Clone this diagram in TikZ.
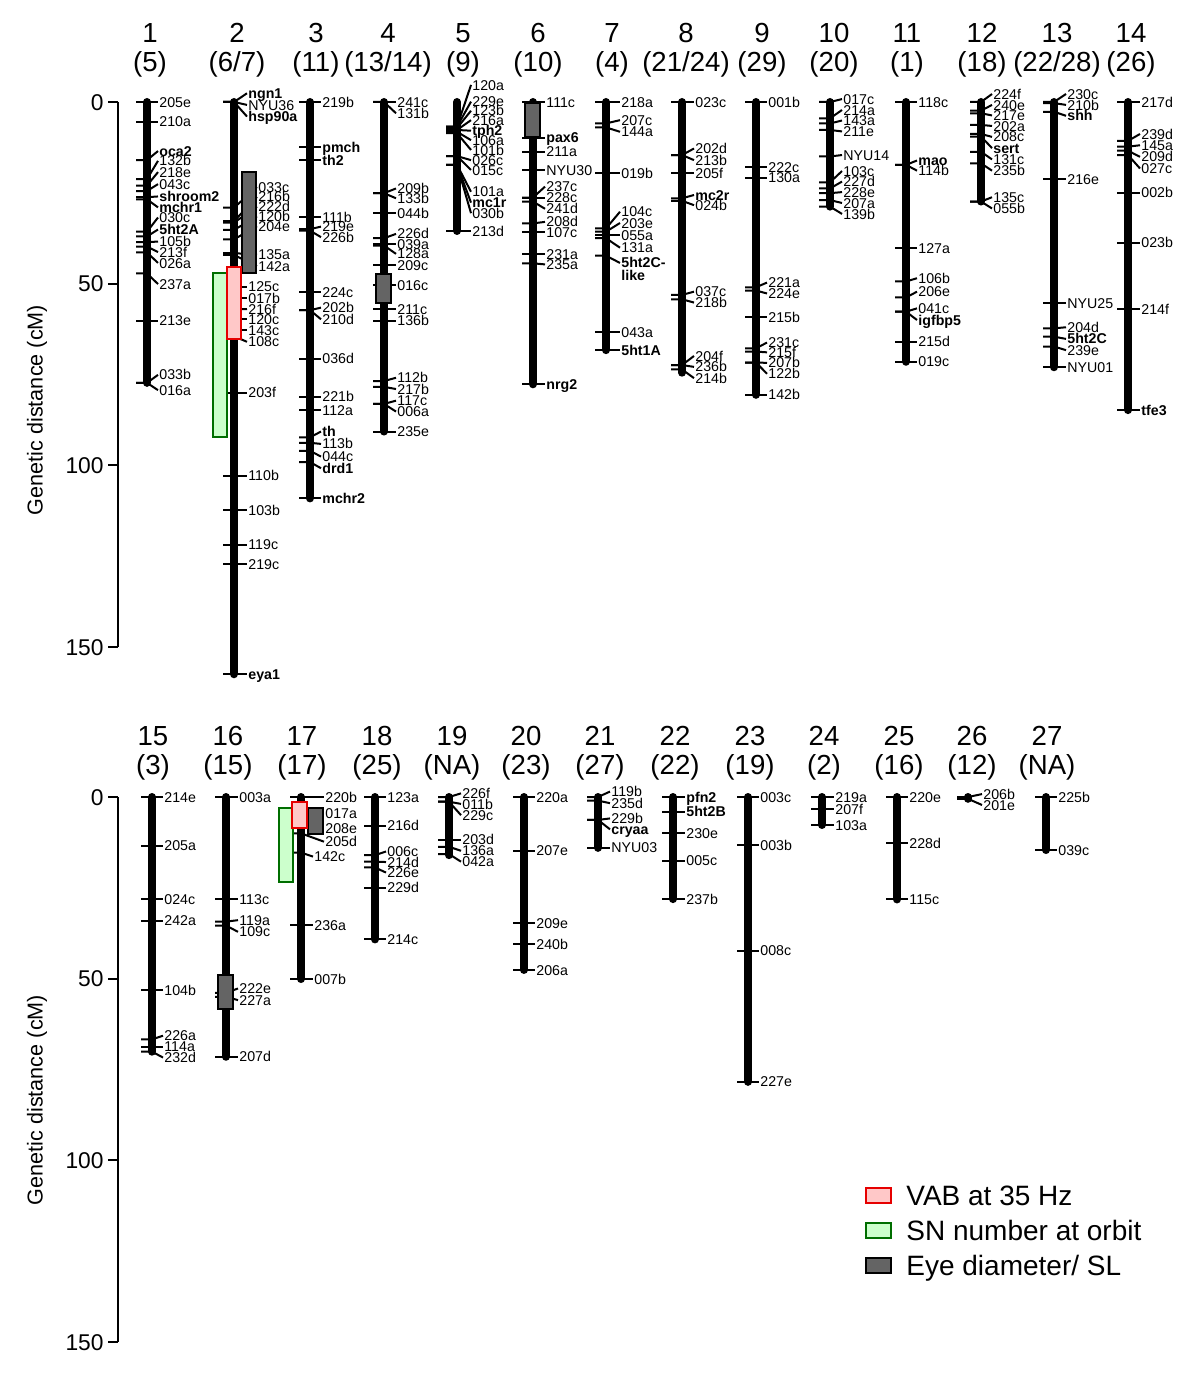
\documentclass[tikz,border=0pt]{standalone}
\usepackage{fontspec}
\setmainfont{Liberation Sans}
\usepackage{tikz}

\definecolor{vabfill}{RGB}{255,200,200}
\definecolor{vabdraw}{RGB}{230,0,0}
\definecolor{snfill}{RGB}{204,255,204}
\definecolor{sndraw}{RGB}{0,110,0}
\definecolor{eyefill}{RGB}{100,100,100}

\tikzset{
  bar/.style={line width=4pt, line cap=round},
  mk/.style={line width=1pt},
  lab/.style={anchor=west, inner sep=0pt, font=\fontsize{7.1}{7}\selectfont, text height=5.1pt, text depth=0pt},
  hdr/.style={anchor=base, inner sep=0pt, font=\fontsize{13.8}{14}\selectfont},
  axisline/.style={line width=1pt},
  ticklab/.style={anchor=east, inner sep=0pt, font=\fontsize{11.4}{12}\selectfont, text height=8.2pt, text depth=0pt},
  axtitle/.style={rotate=90, inner sep=0pt, font=\fontsize{10.8}{12}\selectfont},
  vab/.style={draw=vabdraw, fill=vabfill, line width=1pt},
  snbox/.style={draw=sndraw, fill=snfill, line width=1pt},
  eyebox/.style={draw=black, fill=eyefill, line width=1pt},
  legtext/.style={anchor=west, inner sep=0pt, font=\fontsize{14}{16}\selectfont, text height=10pt, text depth=0pt},
}

% one linkage group: x position, length in cM
\newcommand{\chrom}[2]{\draw[bar] (#1,0) -- (#1,#2);}
% markers: tick position / label position / name
\newcommand{\mkrs}[3][13]{%
  \foreach \pa/\pb/\nm [count=\i] in {#3}{%
    \draw[mk] ({#2-11},\pa) -- (#2,\pa) -- ({#2+#1-1},\pb);
    \node[lab] (m#2-#1-\i) at ({#2+#1},\pb) {\nm};
  }}

\begin{document}
\begin{tikzpicture}[x=0.5pt, y=-0.5pt]
\useasboundingbox (0,0) rectangle (1200,1385);

% group numbers and (old numbers)
\foreach \hx/\hn/\hp in {150/1/(5), 237/2/{(6/7)}, 316/3/(11), 388/4/{(13/14)}, 463/5/(9),
    538/6/(10), 612/7/(4), 686/8/{(21/24)}, 762/9/(29), 834/10/(20), 907/11/(1),
    982/12/(18), 1057/13/{(22/28)}, 1131/14/(26)}{
  \node[hdr] (n\hn) at (\hx,43) {\hn};
  \node[hdr] (p\hn) at (\hx,72) {\hp};
}
\foreach \hx/\hn/\hp in {153/15/(3), 228/16/(15), 302/17/(17), 377/18/(25), 452/19/(NA),
    526/20/(23), 600/21/(27), 675/22/(22), 750/23/(19), 824/24/(2), 899/25/(16),
    972/26/(12), 1047/27/(NA)}{
  \node[hdr] (n\hn) at (\hx,745) {\hn};
  \node[hdr] (p\hn) at (\hx,774) {\hp};
}

\node[axtitle] (yt1) at (37,410) {Genetic distance (cM)};
\node[axtitle] (yt2) at (37,1100) {Genetic distance (cM)};

% top panel, groups 1-14
\begin{scope}[shift={(0,102)}, y=-1.81667pt]
  \draw[axisline] (118,0) -- (118,150);
  \foreach \v in {0,50,100,150}{
    \draw[axisline] (108,\v) -- (118,\v);
    \node[ticklab] (ta\v) at (104,\v) {\v};
  }

  % 1
  \chrom{147}{77.3}
  \mkrs[12]{147}{0/0/205e, 5.4/5.4/210a, 16.0/13.5/\textbf{oca2}, 21.2/16.2/132b, 23.0/19.3/218e,
    24.5/22.6/043c, 26.2/26.0/\textbf{shroom2}, 26.8/29.0/\textbf{mchr1}, 35.7/31.8/030c,
    37.0/35.1/\textbf{5ht2A}, 38.6/38.4/105b, 39.8/41.3/213f, 41.4/44.3/026a, 47.2/50.1/237a,
    60.2/60.2/213e, 77.3/75.1/033b, 77.3/79.3/016a}

  % 2
  \chrom{234}{157.5}
  \mkrs[14]{234}{0/-2.4/\textbf{ngn1}, 0/0.8/NYU36, 0/4.0/\textbf{hsp90a}, 50.8/50.8/125c,
    54.0/54.0/017b, 57.1/57.0/216f, 59.8/59.8/120c, 62.8/62.8/143c, 64.5/66.0/108c,
    80.0/80.0/203f, 102.9/102.9/110b, 112.3/112.3/103b, 121.8/121.8/119c,
    127.2/127.2/219c, 157.5/157.5/\textbf{eya1}}
  \mkrs[24]{234}{29.1/23.4/033c, 32.8/26.1/216b, 33.2/28.8/222d, 35.2/31.5/120b,
    37.8/34.2/204e, 41.6/42.0/135a, 42.1/45.2/142a}
  \draw[snbox] (213.3,47.2) rectangle (226.7,92.3);
  \draw[eyebox] (241.7,19.2) rectangle (256,47.2);
  \draw[vab] (227.3,45.3) rectangle (240.7,65.2);

  % 3
  \chrom{310}{109.1}
  \mkrs[12]{310}{0/0/219b, 12.5/12.5/\textbf{pmch}, 16.0/16.0/\textbf{th2}, 31.7/31.7/111b,
    35.0/34.3/219e, 35.4/37.2/226b, 52.4/52.4/224c, 57.3/56.6/202b, 57.3/59.8/210d,
    70.6/70.6/036d, 81.1/81.1/221b, 84.8/84.8/112a, 92.3/90.7/\textbf{th}, 93.8/94.1/113b,
    96.0/97.6/044c, 99.1/100.8/\textbf{drd1}, 109.1/109.1/\textbf{mchr2}}

  % 4
  \chrom{384}{90.7}
  \mkrs{384}{0/0/241c, 0/3.1/131b, 25.1/23.8/209b, 25.1/26.5/133b, 30.6/30.6/044b,
    37.5/36.3/226d, 39.1/39.1/039a, 39.5/41.8/128a, 45.0/45.0/209c, 50.4/50.4/016c,
    57.1/57.1/211c, 60.2/60.2/136b, 76.8/75.9/112b, 78.4/79.0/217b, 83.1/82.2/117c,
    83.1/85.2/006a, 90.7/90.7/235e}
  \draw[eyebox] (376,47.3) rectangle (391,55.2);

  % 5
  \chrom{457}{35.5}
  \mkrs[15]{457}{6.8/-4.7/120a, 6.8/-0.1/229e, 7.2/2.4/123b, 7.7/5.0/216a, 7.7/7.9/\textbf{tph2},
    8.2/10.5/106a, 8.6/13.2/101b, 14.9/16.0/026c, 14.9/18.7/015c, 17.3/24.7/101a,
    17.3/27.7/\textbf{mc1r}, 17.3/30.6/030b, 35.5/35.5/213d}

  % 6
  \chrom{533}{77.7}
  \mkrs{533}{0/0/111c, 9.8/9.8/\textbf{pax6}, 13.7/13.7/211a, 18.7/18.7/NYU30, 26.3/23.3/237c,
    26.3/26.3/228c, 27.4/29.4/241d, 33.4/33.0/208d, 35.9/35.9/107c, 41.9/41.9/231a,
    44.4/44.7/235a, 77.7/77.7/\textbf{nrg2}}
  \draw[eyebox] (525,0.2) rectangle (540,9.6);

  % 7
  \chrom{606}{68.3}
  \mkrs[15]{606}{0/0/218a, 5.9/5.0/207c, 7.0/8.2/144a, 19.6/19.6/019b, 34.8/30.2/104c,
    35.7/33.3/203e, 36.6/36.6/055a, 37.5/40.1/131a, 63.4/63.4/043a, 68.3/68.3/\textbf{5ht1A}}
  \draw[mk] (595,42.3) -- (606,42.3) -- (620,44.3);
  \node[anchor=north west, inner sep=0pt, align=left, font=\fontsize{7.1}{6.6}\selectfont\bfseries]
    (c7x) at (621,42.6) {5ht2C-\\like};

  % 8
  \chrom{682}{74.5}
  \mkrs{682}{0/0/023c, 14.6/12.8/202d, 14.6/16.0/213b, 19.6/19.6/205f, 26.5/25.6/\textbf{mc2r},
    27.2/28.4/024b, 53.1/52.2/037c, 54.3/55.2/218b, 72.4/69.9/204f, 72.4/72.9/236b,
    73.6/76.0/214b}

  % 9
  \chrom{756}{80.6}
  \mkrs[12]{756}{0/0/001b, 18.0/18.0/222c, 20.8/20.8/130a, 51.0/49.7/221a, 51.9/52.7/224e,
    59.3/59.3/215b, 67.8/66.2/231c, 68.7/68.9/215f, 71.7/71.8/207b, 71.7/74.8/122b,
    80.6/80.6/142b}

  % 10
  \chrom{830}{28.8}
  \mkrs{830}{0/-0.8/017c, 4.5/2.2/214a, 5.9/5.1/143a, 7.7/8.1/211e, 15.0/14.6/NYU14,
    22.1/19.0/103c, 23.8/21.9/227d, 25.1/24.8/228e, 27.0/27.8/207a, 28.8/30.8/139b}

  % 11
  \chrom{906}{71.5}
  \mkrs[12]{906}{0/0/118c, 17.3/16.1/\textbf{mao}, 17.3/18.9/114b, 40.3/40.3/127a,
    49.4/48.5/106b, 53.8/52.2/206e, 57.7/56.8/041c, 57.7/60.0/\textbf{igfbp5},
    66.0/66.0/215d, 71.5/71.5/019c}

  % 12
  \chrom{981}{27.4}
  \mkrs[12]{981}{0/-2.2/224f, 2.4/0.8/240e, 3.1/3.7/217e, 6.3/6.6/202a, 8.8/9.6/208c,
    9.5/12.7/\textbf{sert}, 13.7/15.8/131c, 16.9/18.9/235b, 27.4/26.2/135c, 27.4/29.3/055b}

  % 13
  \chrom{1054}{73.0}
  \mkrs{1054}{0/-2.2/230c, 0.3/0.8/210b, 2.7/3.8/\textbf{shh}, 21.3/21.3/216e,
    55.4/55.4/NYU25, 62.3/62.0/204d, 64.6/65.2/\textbf{5ht2C}, 67.3/68.3/239e,
    73.0/73.0/NYU01}

  % 14
  \chrom{1128}{84.8}
  \mkrs{1128}{0/0/217d, 10.7/8.8/239d, 12.3/11.9/145a, 13.4/15.1/209d, 14.6/18.3/027c,
    25.0/25.0/002b, 38.7/38.7/023b, 57.1/57.1/214f, 84.8/84.8/\textbf{tfe3}}
\end{scope}

% bottom panel, groups 15-27
\begin{scope}[shift={(0,797)}, y=-1.81667pt]
  \draw[axisline] (118,0) -- (118,150);
  \foreach \v in {0,50,100,150}{
    \draw[axisline] (108,\v) -- (118,\v);
    \node[ticklab] (tb\v) at (104,\v) {\v};
  }

  % 15
  \chrom{152}{70.1}
  \mkrs[12]{152}{0/0/214e, 13.4/13.4/205a, 28.1/28.1/024c, 34.0/34.0/242a, 53.1/53.1/104b,
    66.7/65.7/226a, 68.7/68.7/114a, 70.1/71.7/232d}

  % 16
  \chrom{226}{71.5}
  \mkrs{226}{0/0/003a, 28.1/28.1/113c, 34.3/33.9/119a, 35.4/37.1/109c, 53.9/52.7/222e,
    55.0/55.9/227a, 71.5/71.5/207d}
  \draw[eyebox] (218.3,49.0) rectangle (233.3,58.4);

  % 17
  \chrom{301}{50.1}
  \mkrs{301}{15.3/16.4/142c, 35.2/35.2/236a, 50.1/50.1/007b}
  \mkrs[24]{301}{0/0/220b, 4.5/4.5/017a, 8.6/8.6/208e, 10.0/12.3/205d}
  \draw[snbox] (279.3,3.1) rectangle (293.3,23.3);
  \draw[eyebox] (308.3,3.1) rectangle (323,10.2);
  \draw[vab] (291.7,1.3) rectangle (306.7,8.6);

  % 18
  \chrom{375}{39.2}
  \mkrs[12]{375}{0/0/123a, 7.9/7.9/216d, 16.0/15.0/006c, 17.8/17.9/214d, 19.4/20.8/226e,
    25.0/25.0/229d, 39.2/39.2/214c}

  % 19
  \chrom{449}{16.0}
  \mkrs{449}{0/-1.0/226f, 1.3/1.9/011b, 1.3/5.0/229c, 11.8/11.8/203d, 13.7/14.8/136a,
    15.7/17.8/042a}

  % 20
  \chrom{524}{47.6}
  \mkrs[12]{524}{0/0/220a, 14.8/14.8/207e, 34.8/34.8/209e, 40.5/40.5/240b, 47.6/47.6/206a}

  % 21
  \chrom{598}{14.0}
  \mkrs{598}{0/-1.5/119b, 1.0/1.7/235d, 6.3/5.9/229b, 6.3/8.9/\textbf{cryaa}, 14.0/14.0/NYU03}

  % 22
  \chrom{673}{28.1}
  \mkrs{673}{0/0/\textbf{pfn2}, 4.0/4.0/\textbf{5ht2B}, 10.0/10.0/230e, 17.5/17.5/005c,
    28.1/28.1/237b}

  % 23
  \chrom{748}{78.4}
  \mkrs[12]{748}{0/0/003c, 13.2/13.2/003b, 42.3/42.3/008c, 78.4/78.4/227e}

  % 24
  \chrom{822}{7.7}
  \mkrs{822}{0/0/219a, 3.4/3.4/207f, 7.7/7.7/103a}

  % 25
  \chrom{897}{28.2}
  \mkrs[12]{897}{0/0/220e, 12.7/12.7/228d, 28.2/28.2/115c}

  % 26
  \chrom{968}{0.5}
  \mkrs[15]{968}{0/-0.8/206b, 0.5/2.2/201e}

  % 27
  \chrom{1046}{14.6}
  \mkrs[12]{1046}{0/0/225b, 14.6/14.6/039c}
\end{scope}

% legend
\draw[vab] (866,1188) rectangle (891,1203);
\draw[snbox] (866,1223) rectangle (891,1238);
\draw[eyebox] (866,1258) rectangle (891,1273);
\node[legtext] (l1) at (906,1195.5) {VAB at 35 Hz};
\node[legtext] (l2) at (906,1230.5) {SN number at orbit};
\node[legtext] (l3) at (906,1265.5) {Eye diameter/ SL};
\end{tikzpicture}
\end{document}
